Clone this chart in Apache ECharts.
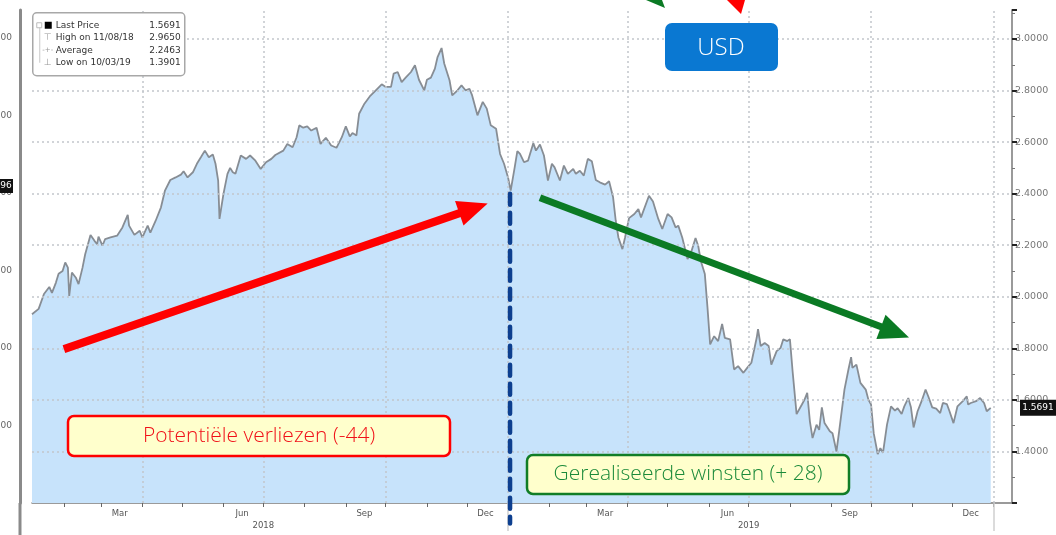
<!DOCTYPE html>
<html>
<head>
<meta charset="utf-8">
<script src="https://cdn.jsdelivr.net/npm/echarts@6/dist/echarts.min.js"></script>
<style>
    html, body { margin: 0; padding: 0; background: #fff; }
    #chart { width: 1056px; height: 535px; }
</style>
</head>
<body>
<div id="chart"></div>
<script>
// koersdata
const dates2018 = ['2018-01-08','2018-01-13','2018-01-17','2018-01-21','2018-01-23','2018-01-26','2018-01-28','2018-01-31',
    '2018-02-02','2018-02-04','2018-02-05','2018-02-07','2018-02-10','2018-02-12','2018-02-15','2018-02-17','2018-02-21',
    '2018-02-24','2018-02-26','2018-02-27','2018-03-02','2018-03-04','2018-03-08','2018-03-13','2018-03-17','2018-03-21',
    '2018-03-22','2018-03-26','2018-03-30','2018-04-01','2018-04-05','2018-04-07','2018-04-11','2018-04-15','2018-04-18',
    '2018-04-22','2018-04-26','2018-04-30','2018-05-02','2018-05-05','2018-05-09','2018-05-12','2018-05-15','2018-05-18',
    '2018-05-21','2018-05-24','2018-05-26','2018-05-28','2018-05-29','2018-06-01','2018-06-04','2018-06-06','2018-06-08',
    '2018-06-10','2018-06-14','2018-06-18','2018-06-21','2018-06-25','2018-06-29','2018-07-03','2018-07-07','2018-07-10',
    '2018-07-16','2018-07-19','2018-07-23','2018-07-26','2018-07-28','2018-07-31','2018-08-03','2018-08-06','2018-08-10',
    '2018-08-13','2018-08-17','2018-08-21','2018-08-25','2018-08-29','2018-09-01','2018-09-04','2018-09-06','2018-09-09',
    '2018-09-11','2018-09-15','2018-09-19','2018-09-23','2018-09-28','2018-10-01','2018-10-05','2018-10-07','2018-10-10',
    '2018-10-13','2018-10-16','2018-10-20','2018-10-23','2018-10-26','2018-10-30','2018-11-01','2018-11-04','2018-11-07',
    '2018-11-09','2018-11-12','2018-11-14','2018-11-18','2018-11-20','2018-11-24','2018-11-27','2018-11-30','2018-12-03',
    '2018-12-05','2018-12-09','2018-12-13','2018-12-16','2018-12-19','2018-12-23','2018-12-26','2018-12-29'];
const values2018 = [1.932,1.953,2.011,2.038,2.015,2.055,2.089,2.100,
    2.133,2.113,2.003,2.094,2.074,2.049,2.113,2.165,2.240,
    2.217,2.204,2.233,2.198,2.224,2.230,2.237,2.269,2.318,
    2.276,2.240,2.256,2.230,2.276,2.249,2.295,2.347,2.412,
    2.453,2.463,2.474,2.487,2.463,2.483,2.516,2.541,2.567,
    2.541,2.552,2.516,2.451,2.302,2.399,2.477,2.500,2.483,
    2.477,2.548,2.535,2.548,2.528,2.496,2.522,2.535,2.550,
    2.567,2.593,2.580,2.619,2.665,2.656,2.661,2.645,2.656,
    2.593,2.617,2.587,2.578,2.619,2.661,2.622,2.635,2.626,
    2.710,2.749,2.777,2.798,2.824,2.814,2.814,2.866,2.872,
    2.833,2.850,2.872,2.898,2.842,2.801,2.842,2.850,2.885,
    2.930,2.965,2.905,2.840,2.781,2.801,2.820,2.801,2.807,
    2.781,2.704,2.756,2.730,2.665,2.652,2.554,2.516];

const dates2019 = ['2019-01-01','2019-01-03','2019-01-06','2019-01-08','2019-01-10','2019-01-13','2019-01-16','2019-01-20',
    '2019-01-22','2019-01-25','2019-01-28','2019-01-31','2019-02-03','2019-02-05','2019-02-09','2019-02-12','2019-02-15',
    '2019-02-19','2019-02-21','2019-02-24','2019-02-27','2019-03-02','2019-03-05','2019-03-08','2019-03-11','2019-03-15',
    '2019-03-18','2019-03-21','2019-03-23','2019-03-25','2019-03-28','2019-03-30','2019-04-02','2019-04-06','2019-04-09',
    '2019-04-11','2019-04-17','2019-04-20','2019-04-24','2019-04-27','2019-05-01','2019-05-04','2019-05-07','2019-05-09',
    '2019-05-12','2019-05-16','2019-05-19','2019-05-22','2019-05-24','2019-05-26','2019-05-29','2019-05-31','2019-06-02',
    '2019-06-05','2019-06-08','2019-06-11','2019-06-13','2019-06-17','2019-06-20','2019-06-23','2019-06-27','2019-06-30',
    '2019-07-03','2019-07-07','2019-07-08','2019-07-10','2019-07-13','2019-07-16','2019-07-18','2019-07-22','2019-07-25',
    '2019-07-27','2019-07-30','2019-08-01','2019-08-03','2019-08-06','2019-08-10','2019-08-12','2019-08-14','2019-08-16',
    '2019-08-18','2019-08-21','2019-08-23','2019-08-25','2019-08-27','2019-08-31','2019-09-02','2019-09-05','2019-09-07',
    '2019-09-11','2019-09-14','2019-09-16','2019-09-17','2019-09-20','2019-09-23','2019-09-27','2019-09-29','2019-10-01',
    '2019-10-03','2019-10-06','2019-10-08','2019-10-10','2019-10-13','2019-10-16','2019-10-19','2019-10-21','2019-10-24',
    '2019-10-26','2019-10-29','2019-10-31','2019-11-02','2019-11-05','2019-11-08','2019-11-11','2019-11-13','2019-11-16',
    '2019-11-19','2019-11-22','2019-11-24','2019-11-27','2019-11-29','2019-12-02','2019-12-05','2019-12-09','2019-12-12',
    '2019-12-13','2019-12-15','2019-12-19','2019-12-22','2019-12-25','2019-12-27','2019-12-30'];
const values2019 = [2.463,2.412,2.502,2.565,2.554,2.522,2.528,2.596,
    2.567,2.591,2.548,2.451,2.516,2.502,2.451,2.509,2.477,
    2.496,2.477,2.489,2.470,2.535,2.526,2.453,2.444,2.435,
    2.448,2.386,2.295,2.230,2.185,2.230,2.305,2.321,2.340,
    2.308,2.392,2.370,2.302,2.263,2.321,2.308,2.269,2.276,
    2.230,2.146,2.178,2.228,2.198,2.139,2.088,1.958,1.815,
    1.847,1.828,1.895,1.841,1.835,1.718,1.731,1.705,1.725,
    1.744,1.841,1.874,1.809,1.821,1.809,1.737,1.789,1.802,
    1.835,1.828,1.835,1.711,1.545,1.582,1.601,1.627,1.517,
    1.452,1.504,1.484,1.571,1.510,1.478,1.471,1.400,1.478,
    1.640,1.718,1.766,1.724,1.737,1.666,1.640,1.601,1.582,
    1.471,1.390,1.413,1.395,1.504,1.575,1.558,1.568,1.545,
    1.575,1.607,1.571,1.493,1.556,1.595,1.640,1.614,1.571,
    1.566,1.549,1.588,1.584,1.556,1.510,1.575,1.595,1.614,
    1.582,1.588,1.595,1.607,1.588,1.556,1.569];

// assen en rasters
const monthStarts = ['2018-02-01','2018-03-01','2018-04-01','2018-05-01','2018-06-01','2018-07-01','2018-08-01','2018-09-01',
    '2018-10-01','2018-11-01','2018-12-01','2019-01-01','2019-02-01','2019-03-01','2019-04-01','2019-05-01','2019-06-01',
    '2019-07-01','2019-08-01','2019-09-01','2019-10-01','2019-11-01','2019-12-01','2020-01-01'];
const monthLabelDates = ['2018-03-15','2018-06-15','2018-09-15','2018-12-15','2019-03-15','2019-06-15','2019-09-15','2019-12-15'];
const quarterStarts = ['2018-04-01','2018-07-01','2018-10-01','2019-01-01','2019-04-01','2019-07-01','2019-10-01','2020-01-01'];
const yearStarts = ['2019-01-01','2020-01-01'];
const yearLabelDates = ['2018-07-01','2019-07-01'];
const priceLevels = [1.4, 1.6, 1.8, 2.0, 2.2, 2.4, 2.6, 2.8, 3.0];
const monthNames = ['Jan','Feb','Mar','Apr','May','Jun','Jul','Aug','Sep','Oct','Nov','Dec'];

// legenda (Bloomberg-stijl)
const legendRows = [
    ['Last Price', '1.5691'],
    ['High on 11/08/18', '2.9650'],
    ['Average', '2.2463'],
    ['Low on 10/03/19', '1.3901']
];
const lastPrice = 1.5691;
const leftTagPrice = 2.43;

// annotaties: scheidingslijn en pijlen [datum, waarde]
const dividerLine = [['2019-01-02', 2.40], ['2019-01-02', 1.12]];
const lossArrow = [['2018-02-01', 1.797], ['2018-12-06', 2.343]];
const gainArrow = [['2019-01-25', 2.384], ['2019-10-19', 1.863]];

const P = s => new Date(s + 'T00:00:00').getTime();

const priceData = dates2018.map((d, i) => [P(d), values2018[i]])
    .concat(dates2019.map((d, i) => [P(d), values2019[i]]));

const gridStyle = { color: '#c2c6cb', type: [2, 3], width: 1.5 };

function arrowItem(pts, color, width) {
    return [
        { coord: [P(pts[0][0]), pts[0][1]], symbol: 'none', lineStyle: { color: color, width: width, type: 'solid' } },
        { coord: [P(pts[1][0]), pts[1][1]], symbol: 'triangle', symbolSize: [26, 30] }
    ];
}

// z doorgeven aan alle onderdelen van een graphic-element
function onTop(el) {
    el.z = 100;
    if (el.children) el.children.forEach(onTop);
    return el;
}

function textBox(x, y, w, h, text, stroke, color) {
    return {
        type: 'group',
        children: [
            { type: 'rect', shape: { x: x, y: y, width: w, height: h, r: 6 }, style: { fill: '#ffffcc', stroke: stroke, lineWidth: 2.5 } },
            { type: 'text', x: x + w / 2, y: y + h / 2, style: { text: text, fill: color, font: '300 21px "Open Sans"', align: 'center', verticalAlign: 'middle' } }
        ]
    };
}

const chart = echarts.init(document.getElementById('chart'));

const xMin = P('2018-01-08');
const xMax = P('2020-01-15');

const option = {
    animation: false,
    backgroundColor: '#fff',
    textStyle: { fontFamily: 'DejaVu Sans' },
    grid: { left: 32, right: 44, top: 10, bottom: 32, outerBoundsMode: 'none' },
    xAxis: [
        {
            type: 'value',
            min: xMin,
            max: xMax,
            axisLine: { lineStyle: { color: '#7a7a7a', width: 1.5 } },
            axisTick: { show: true, customValues: monthStarts.map(P), length: 4, lineStyle: { color: '#666' } },
            axisLabel: {
                customValues: monthLabelDates.map(P),
                formatter: v => monthNames[new Date(v).getMonth()],
                color: '#555', fontSize: 8.5, margin: 6
            },
            splitLine: { show: false }
        },
        {
            type: 'value',
            position: 'bottom',
            min: xMin,
            max: xMax,
            axisLine: { show: false },
            axisTick: { show: true, customValues: yearStarts.map(P), length: 28, lineStyle: { color: '#cfcfcf', width: 1.5 } },
            axisLabel: {
                customValues: yearLabelDates.map(P),
                formatter: v => String(new Date(v).getFullYear()),
                color: '#555', fontSize: 8.5, margin: 18
            },
            splitLine: { show: false }
        }
    ],
    yAxis: [
        {
            type: 'value',
            position: 'right',
            min: 1.2,
            max: 3.1125,
            interval: 0.2,
            axisLine: { show: true, lineStyle: { color: '#9a9a9a', width: 2 } },
            axisTick: { show: true, length: 5, lineStyle: { color: '#222', width: 2 } },
            minorTick: { show: true, splitNumber: 2, length: 3, lineStyle: { color: '#777' } },
            axisLabel: {
                formatter: v => v.toFixed(4), color: '#777', fontSize: 9.5, margin: 3,
                showMinLabel: false, showMaxLabel: false
            },
            splitLine: { show: false }
        },
        {
            type: 'value',
            position: 'left',
            offset: 12,
            min: 0,
            max: 6.36,
            interval: 1,
            axisLine: { show: true, lineStyle: { color: '#8a8a8a', width: 3 } },
            axisTick: { show: false },
            axisLabel: {
                formatter: v => (1.0 + v * 0.2).toFixed(4), color: '#666', fontSize: 9, margin: 8,
                showMinLabel: false, showMaxLabel: false
            },
            splitLine: { show: false }
        }
    ],
    series: [
        {
            type: 'line',
            name: 'Last Price',
            data: priceData,
            symbol: 'none',
            lineStyle: { color: '#878d94', width: 1.8 },
            areaStyle: { color: '#c7e3fb', opacity: 1 },
            z: 2,
            markLine: {
                silent: true,
                symbol: 'none',
                label: { show: false },
                lineStyle: gridStyle,
                data: priceLevels.map(v => ({ yAxis: v }))
                    .concat(quarterStarts.map(d => ({ xAxis: P(d) })))
            },
            markPoint: {
                silent: true,
                symbol: 'rect',
                itemStyle: { color: '#111' },
                label: { color: '#fff', fontSize: 9, formatter: p => p.value.toFixed(4) },
                data: [
                    { coord: [xMax, lastPrice], value: lastPrice, symbolSize: [36, 16], symbolOffset: [26, 0] },
                    { coord: [xMin, leftTagPrice], value: leftTagPrice + 0.0096, symbolSize: [34, 14], symbolOffset: [-36, 0] }
                ]
            }
        },
        {
            type: 'line',
            data: dividerLine.map(p => [P(p[0]) + 12 * 3600e3, p[1]]),
            clip: false,
            symbol: 'none',
            lineStyle: { color: '#0d3f8f', width: 4.5, type: [11, 8], cap: 'round' },
            z: 6,
            markLine: {
                silent: true,
                label: { show: false },
                data: [
                    arrowItem(lossArrow, '#ff0000', 8),
                    arrowItem(gainArrow, '#0b7a24', 7)
                ]
            }
        }
    ],
    graphic: [
        // legenda
        {
            type: 'group', left: 32, top: 12,
            children: [
                { type: 'rect', shape: { x: 0, y: 0, width: 152, height: 63, r: 4 }, style: { fill: '#fff', stroke: '#a8a8a8', lineWidth: 1.5 } },
                { type: 'line', shape: { x1: 7, y1: 14, x2: 7, y2: 50 }, style: { stroke: '#c8c8c8', lineWidth: 1 } },
                { type: 'rect', shape: { x: 4, y: 10, width: 5, height: 5 }, style: { fill: '#fff', stroke: '#bbb', lineWidth: 1 } },
                { type: 'rect', shape: { x: 12, y: 9, width: 7, height: 7 }, style: { fill: '#000' } },
                { type: 'text', x: 15, y: 25, style: { text: '⊤', fill: '#999', font: '9px "DejaVu Sans"', align: 'center', verticalAlign: 'middle' } },
                { type: 'text', x: 15, y: 37, style: { text: '-+-', fill: '#999', font: '7px "DejaVu Sans"', align: 'center', verticalAlign: 'middle' } },
                { type: 'text', x: 15, y: 50, style: { text: '⊥', fill: '#999', font: '9px "DejaVu Sans"', align: 'center', verticalAlign: 'middle' } }
            ].concat(legendRows.map((r, i) => ({
                type: 'text', x: 23, y: 13 + i * 12.4,
                style: { text: r[0], fill: '#333', font: '9px "DejaVu Sans"', verticalAlign: 'middle' }
            }))).concat(legendRows.map((r, i) => ({
                type: 'text', x: 148, y: 13 + i * 12.4,
                style: { text: r[1], fill: '#333', font: '9px "DejaVu Sans"', align: 'right', verticalAlign: 'middle' }
            })))
        },
        // afgesneden pijlen bovenaan
        { type: 'polygon', shape: { points: [[646, 0], [662, 0], [665, 8]] }, style: { fill: '#0b7a24' } },
        { type: 'polygon', shape: { points: [[727, 0], [745, 0], [741, 14]] }, style: { fill: '#ff0000' } },
        // USD label
        {
            type: 'group',
            children: [
                { type: 'rect', shape: { x: 665, y: 23, width: 113, height: 48, r: 7 }, style: { fill: '#0a78d2' } },
                { type: 'text', x: 721, y: 48, style: { text: 'USD', fill: '#fff', font: '300 24px "Open Sans"', align: 'center', verticalAlign: 'middle' } }
            ]
        },
        // tekstvakken
        textBox(68, 416, 382, 40, 'Potentiële verliezen (-44)', '#ff0000', '#f01018'),
        textBox(527, 455, 322, 39, 'Gerealiseerde winsten (+ 28)', '#117d26', '#1b8a3a'),
        { type: 'line', shape: { x1: 20, y1: 503, x2: 20, y2: 535 }, style: { stroke: '#8a8a8a', lineWidth: 3 } }
    ].map(onTop)
};

chart.setOption(option);
</script>
</body>
</html>
